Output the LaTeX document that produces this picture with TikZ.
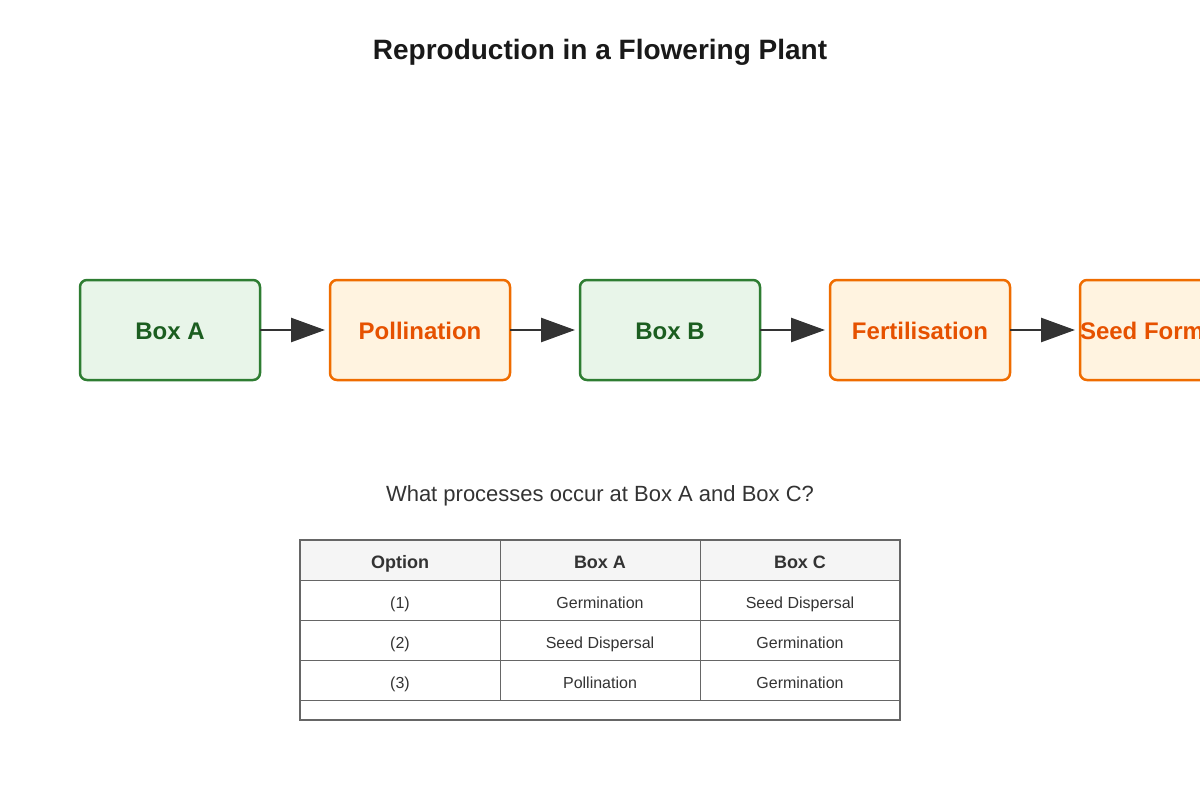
\documentclass[tikz,border=0pt]{standalone}
\usepackage{fontspec}
\setmainfont{Liberation Sans}
\usetikzlibrary{positioning,arrows.meta}
\definecolor{grnline}{HTML}{2E7D32}
\definecolor{grnfill}{HTML}{E8F5E9}
\definecolor{grntext}{HTML}{1B5E20}
\definecolor{orgline}{HTML}{EF6C00}
\definecolor{orgfill}{HTML}{FFF3E0}
\definecolor{orgtext}{HTML}{E65100}
\definecolor{arr}{HTML}{333333}
\definecolor{cellline}{HTML}{666666}
\tikzset{
  stage/.style={draw, line width=2.5pt, rounded corners=7pt, minimum width=180pt,
    minimum height=100pt, inner sep=0pt, outer sep=0pt, text height=20pt, text depth=2pt,
    font=\fontsize{24}{28}\selectfont\bfseries},
  unknown/.style={stage, draw=grnline, fill=grnfill, text=grntext},
  known/.style={stage, draw=orgline, fill=orgfill, text=orgtext},
  flow/.style={-{Triangle[length=34pt,width=24pt]}, line width=2.5pt, draw=arr, shorten >=5pt},
  cell/.style={draw=cellline, line width=1pt, minimum width=200pt, minimum height=40pt,
    inner sep=0pt, outer sep=0pt, text height=16pt, text depth=0pt, text=arr,
    font=\fontsize{16}{19}\selectfont},
  head/.style={cell, fill=black!4, text height=17pt, font=\fontsize{18}{22}\selectfont\bfseries}
}
\begin{document}
\begin{tikzpicture}[x=1pt,y=-1pt]
    \useasboundingbox (0,0) rectangle (1200,800);
    \clip (0,0) rectangle (1200,800);

    % Title
    \node[text=black!90, font=\fontsize{28}{32}\selectfont\bfseries] (title) at (600,52) {Reproduction in a Flowering Plant};

    % Stages
    \node[unknown] (boxa) at (170,330) {Box A};
    \node[known, right=70pt of boxa] (poll) {Pollination};
    \node[unknown, right=70pt of poll] (boxb) {Box B};
    \node[known, right=70pt of boxb] (fert) {Fertilisation};
    \node[known, right=70pt of fert] (seed) {Seed Formation};

    % Arrows between stages
    \draw[flow] (boxa) -- (poll);
    \draw[flow] (poll) -- (boxb);
    \draw[flow] (boxb) -- (fert);
    \draw[flow] (fert) -- (seed);

    % Question
    \node[text=arr, font=\fontsize{22}{26}\selectfont] (question) at (600,496) {What processes occur at Box A and Box C?};

    % Table header
    \node[head] (h1) at (400,560) {Option};
    \node[head, right=0pt of h1] (h2) {Box A};
    \node[head, right=0pt of h2] (h3) {Box C};

    % Table rows
    \node[cell, below=0pt of h1] (r11) {(1)};
    \node[cell, right=0pt of r11] (r12) {Germination};
    \node[cell, right=0pt of r12] (r13) {Seed Dispersal};
    \node[cell, below=0pt of r11] (r21) {(2)};
    \node[cell, right=0pt of r21] (r22) {Seed Dispersal};
    \node[cell, right=0pt of r22] (r23) {Germination};
    \node[cell, below=0pt of r21] (r31) {(3)};
    \node[cell, right=0pt of r31] (r32) {Pollination};
    \node[cell, right=0pt of r32] (r33) {Germination};

    % Outer frame
    \draw[cellline, line width=1.5pt] (h1.north west) rectangle (900,720);
\end{tikzpicture}
\end{document}
